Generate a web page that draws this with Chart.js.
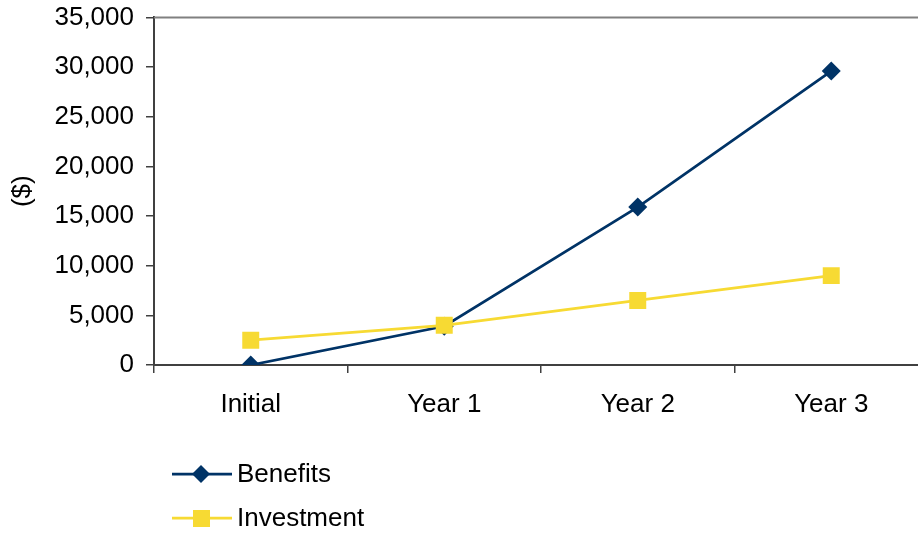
<!DOCTYPE html>
<html>
<head>
<meta charset="utf-8">
<script src="https://cdn.jsdelivr.net/npm/chart.js@4"></script>
<style>
  html, body { margin:0; padding:0; background:#fff; overflow:hidden; }
  #wrap { width:940px; height:533px; }
</style>
</head>
<body>
<div id="wrap"><canvas id="chart" width="940" height="533"></canvas></div>
<script>
const categories = ["Initial", "Year 1", "Year 2", "Year 3"];
const benefits   = [0, 3900, 15900, 29600];
const investment = [2500, 4000, 6500, 9000];
const yTicks     = [0, 5000, 10000, 15000, 20000, 25000, 30000, 35000];

const NAVY = "#003366";
const YELLOW = "#F7DA33";
const FONT = "'Liberation Sans', Arial, sans-serif";

// legend swatch: line with marker in middle
function swatch(color, shape) {
  const c = document.createElement("canvas");
  c.width = 60; c.height = 20;
  const g = c.getContext("2d");
  g.strokeStyle = color; g.lineWidth = 2.75;
  g.beginPath(); g.moveTo(0, 10); g.lineTo(60, 10); g.stroke();
  g.fillStyle = color;
  g.beginPath();
  if (shape === "diamond") {
    g.moveTo(29, 1); g.lineTo(38, 10); g.lineTo(29, 19); g.lineTo(20, 10);
  } else {
    g.rect(21, 2, 17, 17);
  }
  g.closePath(); g.fill();
  return c;
}

const extras = {
  id: "extras",
  afterDraw(chart) {
    const {ctx, chartArea} = chart;
    ctx.save();
    // plot area top border
    ctx.strokeStyle = "#808080"; ctx.lineWidth = 2;
    ctx.beginPath(); ctx.moveTo(chartArea.left, chartArea.top); ctx.lineTo(chartArea.right, chartArea.top); ctx.stroke();
    // legend
    const items = [
      { text: "Benefits", img: swatch(NAVY, "diamond"), y: 474 },
      { text: "Investment", img: swatch(YELLOW, "square"), y: 518 }
    ];
    ctx.font = "26px " + FONT;
    ctx.fillStyle = "#000";
    ctx.textBaseline = "middle";
    items.forEach(it => {
      ctx.drawImage(it.img, 172, it.y - 10);
      ctx.fillText(it.text, 237, it.y + 1);
    });
    ctx.restore();
  }
};

new Chart(document.getElementById("chart"), {
  type: "line",
  data: {
    labels: categories,
    datasets: [
      { label: "Benefits", data: benefits, borderColor: NAVY, backgroundColor: NAVY, order: 2,
        borderWidth: 2.75, pointStyle: "rectRot", pointRadius: 9.5, pointBorderWidth: 0, tension: 0 },
      { label: "Investment", data: investment, borderColor: YELLOW, backgroundColor: YELLOW, order: 1,
        borderWidth: 2.75, pointStyle: "rect", pointRadius: 12, pointBorderWidth: 0, tension: 0 }
    ]
  },
  options: {
    responsive: false,
    animation: false,
    layout: { padding: { top: 12, left: 0, right: 0, bottom: 0 } },
    plugins: { legend: { display: false }, tooltip: { enabled: false } },
    scales: {
      x: {
        offset: true,
        grid: { offset: true, drawOnChartArea: false, drawTicks: true, tickLength: 8, color: "#404040", lineWidth: 1.5 },
        border: { color: "#404040", width: 2 },
        ticks: { color: "#000", font: { family: FONT, size: 26 }, padding: 16, maxRotation: 0 },
        afterFit(s) { s.height = 168; }
      },
      y: {
        min: 0, max: 35000,
        afterBuildTicks(s) { s.ticks = yTicks.map(v => ({ value: v })); },
        grid: { drawOnChartArea: false, drawTicks: true, tickLength: 8, color: "#404040", lineWidth: 1.5 },
        border: { color: "#404040", width: 2 },
        ticks: { color: "#000", font: { family: FONT, size: 26, lineHeight: 0.42 }, padding: 12,
          callback: v => v.toLocaleString("en-US") },
        title: { display: true, text: "($)", color: "#000", font: { family: FONT, size: 26 }, padding: { top: 7 } },
        afterFit(s) { s.width = 154; }
      }
    }
  },
  plugins: [extras]
});
</script>
</body>
</html>
